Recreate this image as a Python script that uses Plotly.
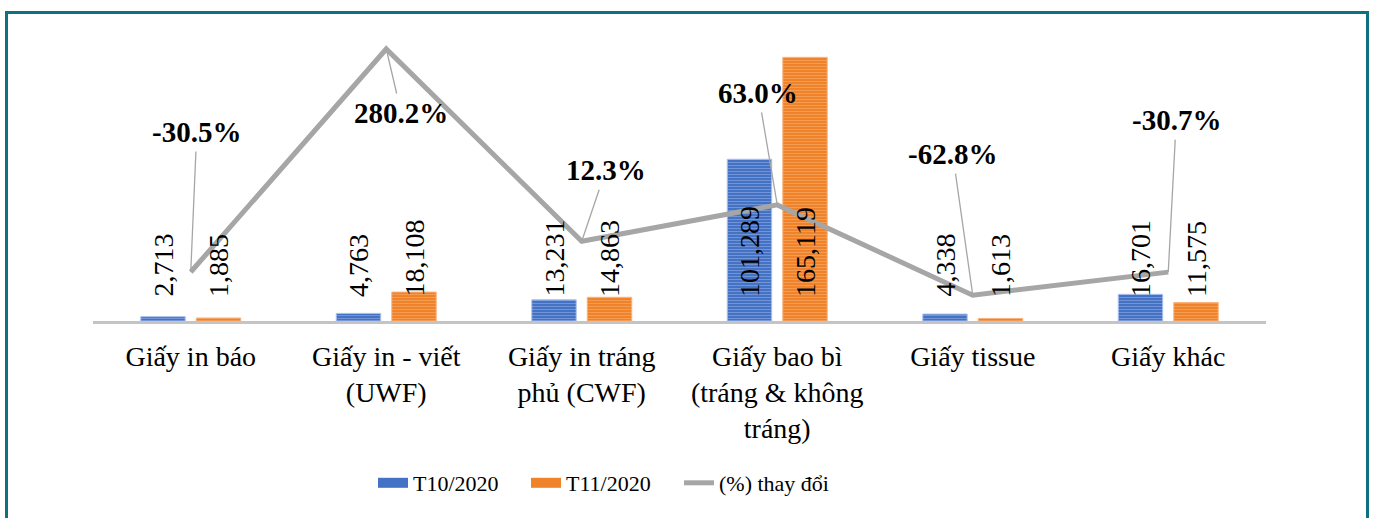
import plotly.graph_objects as go

# ---- data ----
categories = [
    "Giấy in báo",
    "Giấy in - viết<br>(UWF)",
    "Giấy in tráng<br>phủ (CWF)",
    "Giấy bao bì<br>(tráng & không<br>tráng)",
    "Giấy tissue",
    "Giấy khác",
]
t10_2020 = [2713, 4763, 13231, 101289, 4338, 16701]
t11_2020 = [1885, 18108, 14863, 165119, 1613, 11575]
pct_change = [-30.5, 280.2, 12.3, 63.0, -62.8, -30.7]
series_names = ["T10/2020", "T11/2020", "(%) thay đổi"]

# label offsets (pixels) for the percentage callouts
pct_label_offsets = [(6, -140), (15, 64), (24, -71), (-19, -112), (-20, -141), (8, -152)]

W, H = 1376, 518


def px_x(p):  # pixel -> paper x
    return p / W


def px_y(p):  # pixel -> paper y
    return (H - p) / H


BLUE, BLUE_L = "#4472C4", "#9fb6ea"
ORANGE, ORANGE_L = "#F0822A", "#f9b57c"
GRAY = "#a6a6a6"
SERIF = "Liberation Serif, Times New Roman, serif"

fig = go.Figure()

fig.add_trace(go.Bar(
    x=categories, y=t10_2020, name=series_names[0], showlegend=False,
    marker=dict(color=BLUE, line=dict(color="#a9bfee", width=1),
                pattern=dict(shape="-", bgcolor=BLUE, fgcolor=BLUE_L, size=3, solidity=0.35)),
))
fig.add_trace(go.Bar(
    x=categories, y=t11_2020, name=series_names[1], showlegend=False,
    marker=dict(color=ORANGE, line=dict(color="#f8b27a", width=1),
                pattern=dict(shape="-", bgcolor=ORANGE, fgcolor=ORANGE_L, size=3, solidity=0.35)),
))
fig.add_trace(go.Scatter(
    x=categories, y=pct_change, name=series_names[2], yaxis="y2",
    mode="lines", line=dict(color=GRAY, width=5), showlegend=False,
))

# legend entries (wide swatches like the original)
fig.add_trace(go.Scatter(x=[None], y=[None], mode="lines", name=series_names[0],
                         line=dict(color=BLUE, width=15)))
fig.add_trace(go.Scatter(x=[None], y=[None], mode="lines", name=series_names[1],
                         line=dict(color=ORANGE, width=15)))
fig.add_trace(go.Scatter(x=[None], y=[None], mode="lines", name=series_names[2],
                         line=dict(color=GRAY, width=5)))

annotations = []
# bar value labels (rotated, anchored near the base)
for vals, shift in ((t10_2020, -27.75), (t11_2020, 27.75)):
    for c, v in zip(categories, vals):
        annotations.append(dict(
            x=c, y=0, xref="x", yref="y", text=f"{v:,}", textangle=-90,
            showarrow=False, xanchor="center", yanchor="bottom",
            xshift=shift, yshift=23, borderpad=0,
            font=dict(family=SERIF, size=28, color="black"),
        ))
# percentage callouts
for c, p, (ax, ay) in zip(categories, pct_change, pct_label_offsets):
    annotations.append(dict(
        x=c, y=p, xref="x", yref="y2", text=f"<b>{p:.1f}%</b>",
        showarrow=True, arrowhead=0, arrowwidth=1.3, arrowcolor=GRAY,
        ax=ax, ay=ay, borderpad=3, standoff=0,
        font=dict(family=SERIF, size=29, color="black"),
    ))

fig.update_layout(
    width=W, height=H,
    margin=dict(l=0, r=0, t=0, b=0, autoexpand=False),
    paper_bgcolor="white", plot_bgcolor="white",
    barmode="group", bargap=0.432, bargroupgap=0.2,
    xaxis=dict(domain=[px_x(93), px_x(1266)], showline=True, linecolor="#c4c4c4", linewidth=3,
               ticks="", showgrid=False, zeroline=False,
               tickfont=dict(family=SERIF, size=28, color="black"), ticklabelstandoff=8),
    yaxis=dict(domain=[px_y(321), px_y(20)], range=[0, 188500], visible=False,
               showgrid=False, zeroline=False),
    yaxis2=dict(overlaying="y", side="right", range=[-98.8, 320.6], visible=False,
                showgrid=False, zeroline=False),
    legend=dict(orientation="h", x=px_x(373), xanchor="left", y=px_y(483), yanchor="middle",
                font=dict(family=SERIF, size=22, color="black"), entrywidth=108,
                bgcolor="rgba(0,0,0,0)"),
    annotations=annotations,
    shapes=[dict(type="rect", xref="paper", yref="paper", x0=px_x(6.5), x1=px_x(1367.5),
                 y0=-0.05, y1=px_y(12.5), line=dict(color="#0f7080", width=3), layer="below")],
)

fig.write_html("out.html", config={"displayModeBar": False},
               post_script="document.body.style.margin='0';")
